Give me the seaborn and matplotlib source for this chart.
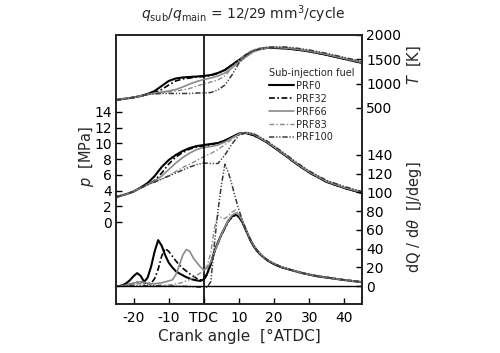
import matplotlib
matplotlib.use('Agg')
import matplotlib.pyplot as plt
import seaborn as sns
import pandas as pd

sns.set_theme(style='ticks')
plt.rcParams['font.family'] = ['DejaVu Sans']
plt.rcParams['mathtext.fontset'] = 'dejavusans'
plt.rcParams['axes.linewidth'] = 1.2

fuels = ['PRF0', 'PRF32', 'PRF66', 'PRF83', 'PRF100']

# crank angle grid for temperature and pressure
ca_tp = [-25, -22, -20, -18, -16, -14, -12, -10, -8, -6, -4, -2, 0, 2, 4, 6, 8,
         10, 12, 14, 16, 18, 20, 23, 26, 30, 35, 40, 45]

# in-cylinder temperature [K]
T_prf0 = [664, 695, 716, 746, 788, 849, 952, 1055, 1106, 1127, 1137, 1147, 1157, 1178, 1219, 1281, 1384,
          1486, 1589, 1671, 1712, 1733, 1733, 1723, 1702, 1661, 1589, 1507, 1425]
T_prf32 = [664, 695, 716, 746, 777, 818, 880, 972, 1055, 1096, 1116, 1137, 1147, 1168, 1209, 1281, 1384,
           1486, 1589, 1671, 1712, 1733, 1733, 1723, 1702, 1661, 1589, 1507, 1425]
T_prf66 = [664, 695, 716, 746, 777, 808, 829, 849, 880, 931, 993, 1044, 1086, 1116, 1157, 1219, 1322,
           1445, 1548, 1651, 1702, 1733, 1743, 1733, 1712, 1671, 1599, 1517, 1435]
T_prf83 = [664, 695, 716, 746, 777, 798, 808, 829, 849, 870, 901, 952, 993, 1034, 1075, 1157, 1322,
           1486, 1610, 1692, 1733, 1753, 1753, 1743, 1723, 1681, 1610, 1527, 1445]
T_prf100 = [664, 695, 716, 746, 777, 788, 798, 798, 798, 798, 798, 808, 808, 818, 870, 972, 1178,
            1425, 1589, 1671, 1712, 1743, 1753, 1753, 1733, 1692, 1620, 1538, 1455]

# in-cylinder pressure [MPa]
p_prf0 = [3.18, 3.56, 3.88, 4.39, 4.96, 5.85, 7.00, 7.89, 8.53, 9.04, 9.42, 9.67, 9.80, 9.93, 10.05, 10.37, 10.82,
          11.26, 11.33, 11.07, 10.63, 10.12, 9.48, 8.53, 7.51, 6.30, 5.09, 4.33, 3.69]
p_prf32 = [3.18, 3.56, 3.88, 4.33, 4.77, 5.28, 6.24, 7.38, 8.27, 8.85, 9.29, 9.55, 9.67, 9.86, 10.05, 10.37, 10.82,
           11.24, 11.31, 11.05, 10.62, 10.10, 9.47, 8.52, 7.50, 6.29, 5.08, 4.32, 3.68]
p_prf66 = [3.18, 3.56, 3.88, 4.33, 4.77, 5.22, 5.85, 6.68, 7.51, 8.21, 8.78, 9.23, 9.48, 9.61, 9.80, 10.18, 10.69,
           11.20, 11.39, 11.20, 10.69, 10.18, 9.55, 8.59, 7.57, 6.36, 5.15, 4.39, 3.75]
p_prf83 = [3.18, 3.56, 3.88, 4.33, 4.77, 5.09, 5.47, 5.92, 6.43, 6.94, 7.38, 7.83, 8.34, 8.72, 9.23, 9.86, 10.56,
           11.14, 11.33, 11.20, 10.75, 10.25, 9.61, 8.65, 7.64, 6.43, 5.22, 4.45, 3.82]
p_prf100 = [3.18, 3.56, 3.88, 4.33, 4.77, 5.09, 5.47, 5.85, 6.24, 6.62, 7.00, 7.32, 7.51, 7.45, 7.45, 8.53, 9.93,
            11.07, 11.39, 11.26, 10.82, 10.31, 9.67, 8.72, 7.70, 6.49, 5.28, 4.52, 3.88]

# crank angle grid for heat release rate
ca_hr = [-25, -24, -23, -22, -21, -20, -19, -18, -17, -16, -15, -14, -13, -12, -11, -10, -9, -8, -7, -6,
         -5, -4, -3, -2, -1, 0, 1, 2, 3, 4, 5, 6, 7, 8, 9, 10, 11, 12, 13, 14, 15, 16, 17, 18, 19, 20,
         22, 25, 28, 32, 36, 40, 45]

# heat release rate dQ/dtheta [J/deg]
q_prf0 = [0, 0, 1.1, 3.2, 6.4, 10.6, 13.8, 11.0, 4.5, 9.0, 21.0, 37.0, 49.0, 43.0, 33.0, 25.0, 20.0, 16.0, 13.5, 11.5,
          9.5, 8.0, 6.8, 6.0, 5.5, 7.0, 13.8, 24.4, 37.1, 46.6, 55.1, 62.5, 70.0, 74.2, 76.3, 74.2, 67.8, 59.4, 50.9, 43.5,
          38.2, 33.9, 30.7, 27.6, 25.4, 23.3, 20.1, 16.9, 13.8, 10.6, 8.5, 6.4, 4.2]
q_prf32 = [0, 0, 0.5, 1, 2, 3, 4, 4.5, 3.5, 2.5, 3, 8, 18, 32, 40, 37, 32, 27, 22.5, 19,
           16, 13, 10.5, 8, 6.5, 7, 12.5, 23, 35.5, 45.5, 54, 62, 69, 73.5, 75.5, 73.5, 67.5, 59, 50.5, 43.5,
           38.5, 34, 31, 28, 25.5, 23.5, 20.2, 17, 14, 10.8, 8.6, 6.5, 4.3]
q_prf66 = [0, 0, 0.5, 1, 2, 3, 4, 4.5, 4, 3, 2.5, 2.5, 3, 3.5, 4.5, 5.5, 6.5, 12, 22, 33,
           39, 37, 30, 25, 20.5, 17, 19.5, 26, 36, 46, 55, 63, 70, 75.5, 78, 76, 69, 60, 51.5, 44.5,
           39, 34.5, 31, 28, 26, 24, 20.5, 17.2, 14, 11, 8.7, 6.6, 4.4]
q_prf83 = [0, 0, 0.3, 0.8, 1.5, 2, 2.5, 2.5, 2, 1.5, 1.2, 1, 1, 1, 1, 1.2, 1.5, 2, 3, 4,
           5.5, 7, 9, 11.5, 14, 16.5, 22, 36, 62, 76, 73, 72, 75, 79, 81, 77, 70, 60.5, 52, 45,
           39.5, 35, 31.5, 28.5, 26, 24, 20.5, 17.3, 14, 11, 8.7, 6.6, 4.4]
q_prf100 = [0, 0, 0, 0, 0.3, 0.5, 0.6, 0.6, 0.5, 0.4, 0.3, 0.2, 0.2, 0.1, 0, 0, 0, 0, 0, -0.2,
            -0.4, -0.6, -0.8, -1, -1.2, -1.3, -1.2, 5, 45, 80, 108, 130, 121, 108, 94, 81, 70, 60, 51.5, 44.5,
            39, 34.5, 31, 28, 26, 24, 20.5, 17.2, 14, 11, 8.7, 6.6, 4.4]

T_all = [T_prf0, T_prf32, T_prf66, T_prf83, T_prf100]
p_all = [p_prf0, p_prf32, p_prf66, p_prf83, p_prf100]
q_all = [q_prf0, q_prf32, q_prf66, q_prf83, q_prf100]

df_tp = pd.concat([pd.DataFrame({'ca': ca_tp, 'fuel': f, 'T': T, 'p': p})
                   for f, T, p in zip(fuels, T_all, p_all)], ignore_index=True)
df_hr = pd.concat([pd.DataFrame({'ca': ca_hr, 'fuel': f, 'dQ': q})
                   for f, q in zip(fuels, q_all)], ignore_index=True)

colors = {'PRF0': 'black', 'PRF32': 'black', 'PRF66': '#8a8a8a', 'PRF83': '#8a8a8a', 'PRF100': '#3a3a3a'}
dashes = {'PRF0': '', 'PRF32': (3.5, 1.5, 1, 1.5), 'PRF66': '', 'PRF83': (3.5, 1.5, 1, 1.5),
          'PRF100': (3.5, 1.2, 0.8, 1.2, 0.8, 1.2)}
widths = {'PRF0': 1.5, 'PRF32': 1.2, 'PRF66': 1.2, 'PRF83': 1.0, 'PRF100': 1.1}

fig = plt.figure(figsize=(5, 3.53), dpi=100)
ax = fig.add_axes([0.232, 0.140, 0.492, 0.761])
axT = ax.twinx()
axQ = ax.twinx()

kw = dict(hue='fuel', style='fuel', size='fuel', hue_order=fuels, style_order=fuels, size_order=fuels,
          palette=colors, dashes=dashes, sizes=widths, legend=False, estimator=None)
sns.lineplot(data=df_tp, x='ca', y='p', ax=ax, **kw)
sns.lineplot(data=df_tp, x='ca', y='T', ax=axT, **kw)
sns.lineplot(data=df_hr, x='ca', y='dQ', ax=axQ, **kw)

ax.axvline(0, color='black', lw=1.2)
axQ.axhline(0, color='black', lw=1.0)

ax.set_xlim(-25, 45)
ax.set_ylim(-10.37, 23.8)
axT.set_ylim(-3517, 2000)
axQ.set_ylim(-18.7, 268)

ax.set_xticks([-20, -10, 0, 10, 20, 30, 40])
ax.set_xticklabels(['-20', '-10', 'TDC', '10', '20', '30', '40'])
ax.set_yticks([0, 2, 4, 6, 8, 10, 12, 14])
axT.set_yticks([500, 1000, 1500, 2000])
axQ.set_yticks([0, 20, 40, 60, 80, 100, 120, 140])

for a in (ax, axT, axQ):
    a.set_xlabel('')
    a.set_ylabel('')
    a.tick_params(direction='in', length=4, width=1, labelsize=10, pad=3, colors='black')
ax.tick_params(axis='x', pad=5)

ax.set_xlabel('Crank angle  [°ATDC]', fontsize=11, labelpad=3)
fig.text(86 / 500, 1 - 156 / 353, r'$p$  [MPa]', rotation=90, ha='center', va='center', fontsize=10.5)
fig.text(414 / 500, 1 - 65 / 353, r'$T$  [K]', rotation=90, ha='center', va='center', fontsize=10.5)
fig.text(414 / 500, 1 - 217 / 353, r'dQ / d$\theta$  [J/deg]', rotation=90, ha='center', va='center', fontsize=10.5)
fig.text(243 / 500, 1 - 14 / 353, r'$q_{\mathrm{sub}}/q_{\mathrm{main}}$ = 12/29 mm$^3$/cycle',
         ha='center', va='center', fontsize=10)

handles = axQ.get_lines()[:5]
axQ.legend(handles, fuels, loc='upper left', bbox_to_anchor=(0.528, 1 - 63 / 353), bbox_transform=fig.transFigure,
           frameon=False, title='Sub-injection fuel', fontsize=7, title_fontsize=7, handlelength=2.6,
           handletextpad=0.15, labelspacing=0.3, borderpad=0, alignment='left')

fig.savefig('out.png', dpi=100)
